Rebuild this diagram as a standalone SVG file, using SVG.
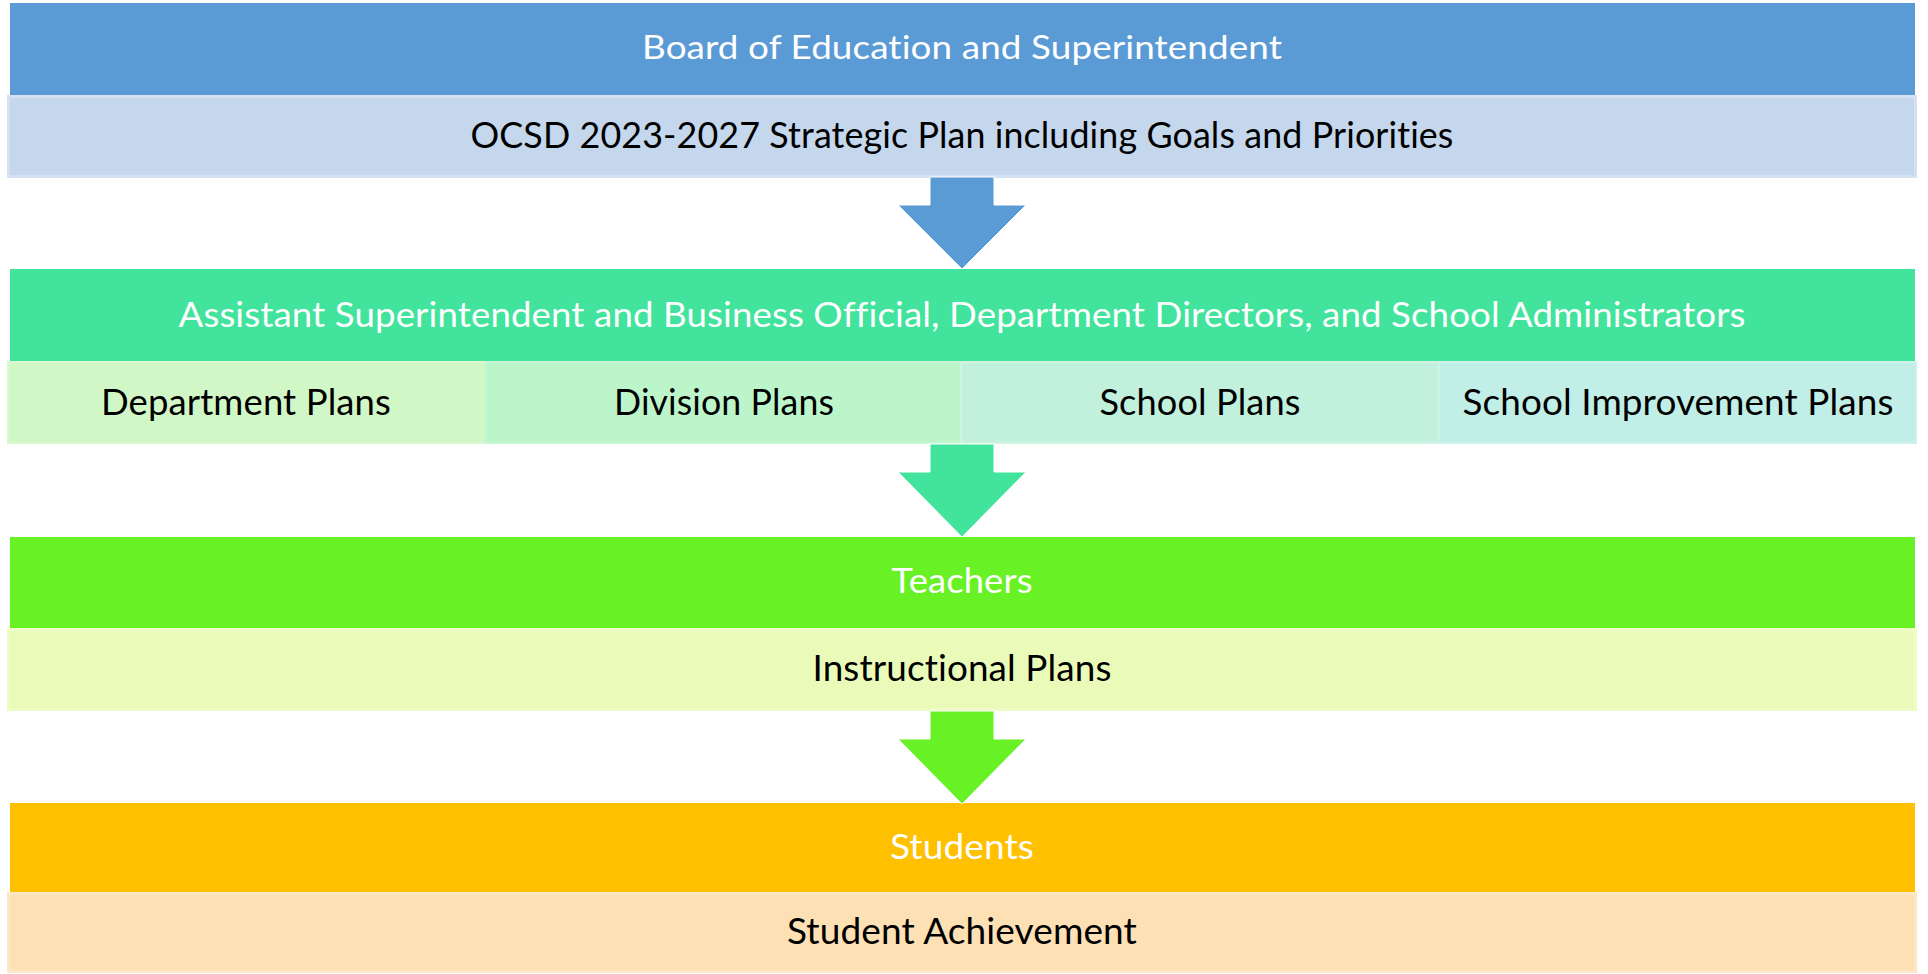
<svg xmlns="http://www.w3.org/2000/svg" width="1928" height="974" viewBox="0 0 1928 974">
<style>
  text { font-variant-ligatures: none; font-feature-settings: "liga" 0, "clig" 0, "dlig" 0; letter-spacing: 0.1px; }
  .hdr-t { font-family: Lato, "Open Sans", "Liberation Sans", sans-serif; fill: #ffffff; text-anchor: middle; }
  .sub-t { font-family: Lato, "Open Sans", "Liberation Sans", sans-serif; fill: #000000; text-anchor: middle; }
</style>
<rect x="0" y="0" width="1928" height="974" fill="#ffffff"/>

<g id="board">
  <rect x="10" y="3" width="1905" height="92" fill="#5B9BD5"/>
  <text class="hdr-t" x="962" y="59" font-size="32" textLength="640" lengthAdjust="spacingAndGlyphs">Board of Education and Superintendent</text>
</g>
<g id="strategic-plan">
  <rect x="8.5" y="96.5" width="1907" height="80" fill="#C5D7EC" stroke="#D5E1F1" stroke-width="3"/>
  <text class="sub-t" x="962" y="148" font-size="37" textLength="983" lengthAdjust="spacingAndGlyphs">OCSD 2023-2027 Strategic Plan including Goals and Priorities</text>
</g>

<g id="administrators">
  <rect x="10" y="269" width="1905" height="92" fill="#42E39C"/>
  <text class="hdr-t" x="962" y="327" font-size="35" textLength="1567" lengthAdjust="spacingAndGlyphs">Assistant Superintendent and Business Official, Department Directors, and School Administrators</text>
</g>
<g id="department-plans">
  <rect x="8" y="362" width="477" height="81" fill="#D2F7C7" stroke="#DCF8D2" stroke-width="2"/>
  <text class="sub-t" x="246" y="415" font-size="37" textLength="290" lengthAdjust="spacingAndGlyphs">Department Plans</text>
</g>
<g id="division-plans">
  <rect x="485" y="362" width="476" height="81" fill="#BDF5CB" stroke="#C9F6D4" stroke-width="2"/>
  <text class="sub-t" x="724" y="415" font-size="37" textLength="220" lengthAdjust="spacingAndGlyphs">Division Plans</text>
</g>
<g id="school-plans">
  <rect x="961" y="362" width="478" height="81" fill="#C1F1DC" stroke="#CFF4E4" stroke-width="2"/>
  <text class="sub-t" x="1200" y="415" font-size="37" textLength="201" lengthAdjust="spacingAndGlyphs">School Plans</text>
</g>
<g id="school-improvement-plans">
  <rect x="1439" y="362" width="477" height="81" fill="#C1EEE7" stroke="#CFF1EC" stroke-width="2"/>
  <text class="sub-t" x="1678" y="415" font-size="37" textLength="431" lengthAdjust="spacingAndGlyphs">School Improvement Plans</text>
</g>

<g id="teachers">
  <rect x="10" y="537" width="1905" height="91" fill="#68F124"/>
  <text class="hdr-t" x="962" y="593" font-size="35" textLength="141" lengthAdjust="spacingAndGlyphs">Teachers</text>
</g>
<g id="instructional-plans">
  <rect x="8.5" y="629.5" width="1907" height="80" fill="#EAFBB9" stroke="#F0FCC6" stroke-width="3"/>
  <text class="sub-t" x="962" y="681" font-size="37" textLength="299" lengthAdjust="spacingAndGlyphs">Instructional Plans</text>
</g>

<g id="students">
  <rect x="10" y="803" width="1905" height="89" fill="#FFC000"/>
  <text class="hdr-t" x="962" y="859" font-size="35" textLength="144" lengthAdjust="spacingAndGlyphs">Students</text>
</g>
<g id="student-achievement">
  <rect x="8.5" y="893.5" width="1907" height="78" fill="#FEE0B5" stroke="#FEE7C6" stroke-width="3"/>
  <text class="sub-t" x="962" y="944" font-size="37" textLength="350" lengthAdjust="spacingAndGlyphs">Student Achievement</text>
</g>

<g id="connectors">
  <polygon points="930,177 994,177 994,205 1026,205 962,269 898,205 930,205" fill="#5B9BD5" stroke="#ffffff" stroke-width="1"/>
  <polygon points="930,444 994,444 994,472 1026,472 962,537 898,472 930,472" fill="#42E39C" stroke="#ffffff" stroke-width="1"/>
  <polygon points="930,711 994,711 994,739 1026,739 962,804 898,739 930,739" fill="#68F124" stroke="#ffffff" stroke-width="1"/>
</g>
</svg>
